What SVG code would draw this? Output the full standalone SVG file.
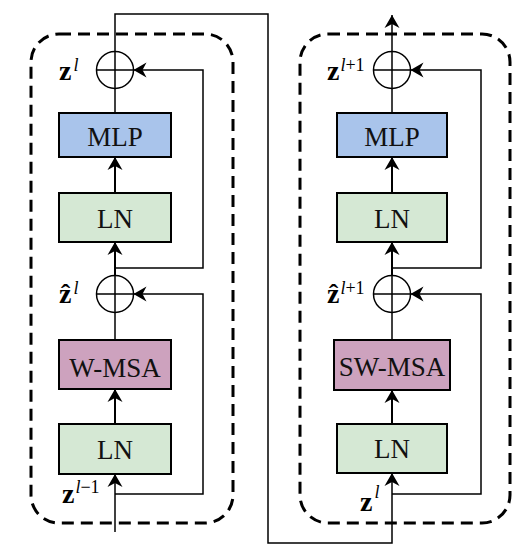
<svg xmlns="http://www.w3.org/2000/svg" width="529" height="550" viewBox="0 0 529 550">
<defs>
<marker id="ah" viewBox="-14 -9 15 18" refX="0" refY="0" markerWidth="15" markerHeight="18" orient="auto" markerUnits="userSpaceOnUse">
<path d="M0,0 L-13,-7.5 L-9,0 L-13,7.5 Z" fill="#000"/>
</marker>
<style>
.frame{fill:none;stroke:#000;stroke-width:3;stroke-dasharray:12 7}
.box{stroke:#000;stroke-width:2}
.mlp{fill:#A9C4EB}
.ln{fill:#D5E8D4}
.msa{fill:#CDA2BE}
.lbl{font-family:"Liberation Serif","Times New Roman",serif;font-size:27px;fill:#111;text-anchor:middle}
.math{font-family:"Liberation Serif","DejaVu Serif","Times New Roman",serif;fill:#000}
.zb{font-size:28px;font-weight:bold}
.sup{font-size:18px;font-style:italic}
.supn{font-size:18px}
.sum{fill:#fff;stroke:#000;stroke-width:1.5}
.conn{fill:none;stroke:#000;stroke-width:1.5}
.arr{fill:none;stroke:#000;stroke-width:2;marker-end:url(#ah)}
.thin{fill:none;stroke:#000;stroke-width:1.5;marker-end:url(#ah)}
</style>
</defs>
<rect class="frame" x="31" y="34" width="202" height="489" rx="28"/>
<rect class="frame" x="300" y="34" width="210" height="489" rx="28"/>
<g id="connectors">
<path class="thin" d="M115,532 L115,474"/>
<path class="arr" d="M115,424 L115,389"/>
<path class="conn" d="M115,340 L115,312"/>
<path class="thin" d="M115,494 L203,494 L203,294 L133.5,294"/>
<path class="arr" d="M115,276 L115,242"/>
<path class="arr" d="M115,193 L115,157"/>
<path class="conn" d="M115,113 L115,88"/>
<path class="thin" d="M115,268 L203,268 L203,70 L133.5,70"/>
<path class="thin" d="M115,52 L115,14 L268,14 L268,543 L392,543 L392,473"/>
<path class="arr" d="M392,424 L392,390"/>
<path class="conn" d="M392,340 L392,312"/>
<path class="thin" d="M392,494 L481,494 L481,294 L410.5,294"/>
<path class="arr" d="M392,276 L392,242"/>
<path class="arr" d="M392,193 L392,157"/>
<path class="conn" d="M392,113 L392,88"/>
<path class="thin" d="M392,268 L481,268 L481,70 L410.5,70"/>
<path class="thin" d="M392,52 L392,15"/>
</g>
<g id="sum-l-upper"><circle class="sum" cx="115" cy="70" r="18.5"/><path class="conn" d="M96.5,70 H133.5 M115,51.5 V88.5"/></g>
<g id="sum-l-lower"><circle class="sum" cx="115" cy="294" r="18.5"/><path class="conn" d="M96.5,294 H133.5 M115,275.5 V312.5"/></g>
<g id="sum-r-upper"><circle class="sum" cx="392" cy="70" r="18.5"/><path class="conn" d="M373.5,70 H410.5 M392,51.5 V88.5"/></g>
<g id="sum-r-lower"><circle class="sum" cx="392" cy="294" r="18.5"/><path class="conn" d="M373.5,294 H410.5 M392,275.5 V312.5"/></g>
<g id="l-mlp"><rect class="box mlp" x="59" y="113" width="112" height="44"/><text class="lbl" x="115" y="146">MLP</text></g>
<g id="l-ln1"><rect class="box ln" x="59" y="193" width="112" height="49"/><text class="lbl" x="115" y="228">LN</text></g>
<g id="l-wmsa"><rect class="box msa" x="59" y="340" width="112" height="49"/><text class="lbl" x="115" y="377">W-MSA</text></g>
<g id="l-ln2"><rect class="box ln" x="59" y="424" width="112" height="50"/><text class="lbl" x="115" y="459">LN</text></g>
<g id="r-mlp"><rect class="box mlp" x="337" y="113" width="110" height="44"/><text class="lbl" x="392" y="146">MLP</text></g>
<g id="r-ln1"><rect class="box ln" x="337" y="193" width="110" height="49"/><text class="lbl" x="392" y="228">LN</text></g>
<g id="r-swmsa"><rect class="box msa" x="334" y="340" width="116" height="50"/><text class="lbl" x="392" y="376">SW-MSA</text></g>
<g id="r-ln2"><rect class="box ln" x="337" y="424" width="110" height="49"/><text class="lbl" x="392" y="458">LN</text></g>
<g id="labels" class="math">
<text x="59" y="80"><tspan class="zb">z</tspan><tspan class="sup" dx="2" dy="-9">l</tspan></text>
<text x="59" y="303"><tspan class="zb">ẑ</tspan><tspan class="sup" dx="2" dy="-9">l</tspan></text>
<text x="62" y="503"><tspan class="zb">z</tspan><tspan class="sup" dx="1" dy="-10">l</tspan><tspan class="supn">−1</tspan></text>
<text x="327" y="80"><tspan class="zb">z</tspan><tspan class="sup" dx="1" dy="-9">l</tspan><tspan class="supn">+1</tspan></text>
<text x="327" y="303"><tspan class="zb">ẑ</tspan><tspan class="sup" dx="1" dy="-9">l</tspan><tspan class="supn">+1</tspan></text>
<text x="360" y="511"><tspan class="zb">z</tspan><tspan class="sup" dx="2" dy="-13">l</tspan></text>
</g>
</svg>
